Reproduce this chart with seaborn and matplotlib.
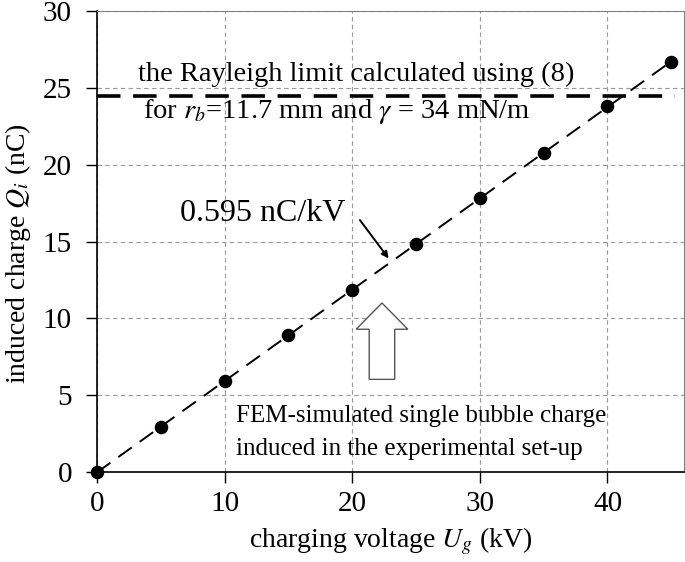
import numpy as np
import pandas as pd
import seaborn as sns
import matplotlib.pyplot as plt

# charging voltage (kV) vs FEM-simulated induced charge (nC)
voltage_kv = [0, 5, 10, 15, 20, 25, 30, 35, 40, 45]
charge_nc = [0.0, 2.95, 5.9, 8.9, 11.85, 14.85, 17.8, 20.75, 23.8, 26.7]
rayleigh_limit = 24.5

x_ticks = [0, 10, 20, 30, 40]
y_ticks = [0, 5, 10, 15, 20, 25, 30]

df = pd.DataFrame({'U_g': voltage_kv, 'Q_i': charge_nc})

sns.set_style('ticks')
plt.rcParams['font.family'] = ['Liberation Serif', 'DejaVu Serif']
plt.rcParams['mathtext.fontset'] = 'stix'
plt.rcParams['text.color'] = 'black'
plt.rcParams['axes.labelcolor'] = 'black'

fig = plt.figure(figsize=(6.85, 5.62), dpi=100)
ax = fig.add_axes([0.1416, 0.1601, 0.857, 0.8203])

# dashed fit line + markers
sns.regplot(data=df, x='U_g', y='Q_i', ci=None, ax=ax,
            scatter_kws=dict(s=95, color='black', alpha=1, zorder=4,
                             linewidths=0, clip_on=False),
            line_kws=dict(color='black', lw=1.4, dashes=(8.5, 5), zorder=3))

# Rayleigh limit
ax.axhline(rayleigh_limit, xmax=0.985, color='black', lw=2.6, dashes=(6.5, 3.5), zorder=3)

ax.set_xlim(0, 46)
ax.set_ylim(0, 30)
ax.set_xticks(x_ticks)
ax.set_yticks(y_ticks)
ax.grid(True, color='#9a9a9a', lw=0.8, ls=(0, (4, 3)))
ax.tick_params(labelsize=21, length=8, width=1, direction='out',
               colors='black', labelcolor='black')
ax.tick_params(axis='y', pad=10)
ax.tick_params(axis='x', pad=6)
for s in ['top', 'right']:
    ax.spines[s].set_color('#808080')
for s in ['left', 'bottom']:
    ax.spines[s].set_color('black')
    ax.spines[s].set_linewidth(1.2)

ax.set_xlabel(r'charging voltage $U_g$ (kV)', fontsize=20, labelpad=6)
ax.set_ylabel(r'induced charge $Q_i$ (nC)', fontsize=20)
ax.yaxis.set_label_coords(-0.109, 0.473)

ax.text(20.3, 25.9, 'the Rayleigh limit calculated using (8)', fontsize=20.5,
        ha='center', va='center')
ax.text(18.8, 23.45, r'for $r_b$=11.7 mm and $\gamma$ = 34 mN/m', fontsize=20.5,
        ha='center', va='center')

ax.text(6.5, 16.8, '0.595 nC/kV', fontsize=23, ha='left', va='center')
ax.annotate('', xy=(22.85, 13.9), xytext=(20.6, 16.4),
            arrowprops=dict(arrowstyle='-|>', color='black', lw=1.4,
                            shrinkA=0, shrinkB=0))

# hollow block arrow
ax.arrow(22.33, 6.03, 0, 4.97, width=2.0, head_width=4.05, head_length=1.71,
         length_includes_head=True, fc='white', ec='#555555', lw=1.0, zorder=5)

ax.text(10.9, 3.65, 'FEM-simulated single bubble charge', fontsize=18, va='center')
ax.text(10.9, 1.5, 'induced in the experimental set-up', fontsize=18, va='center')

fig.savefig('out.png', dpi=100)
